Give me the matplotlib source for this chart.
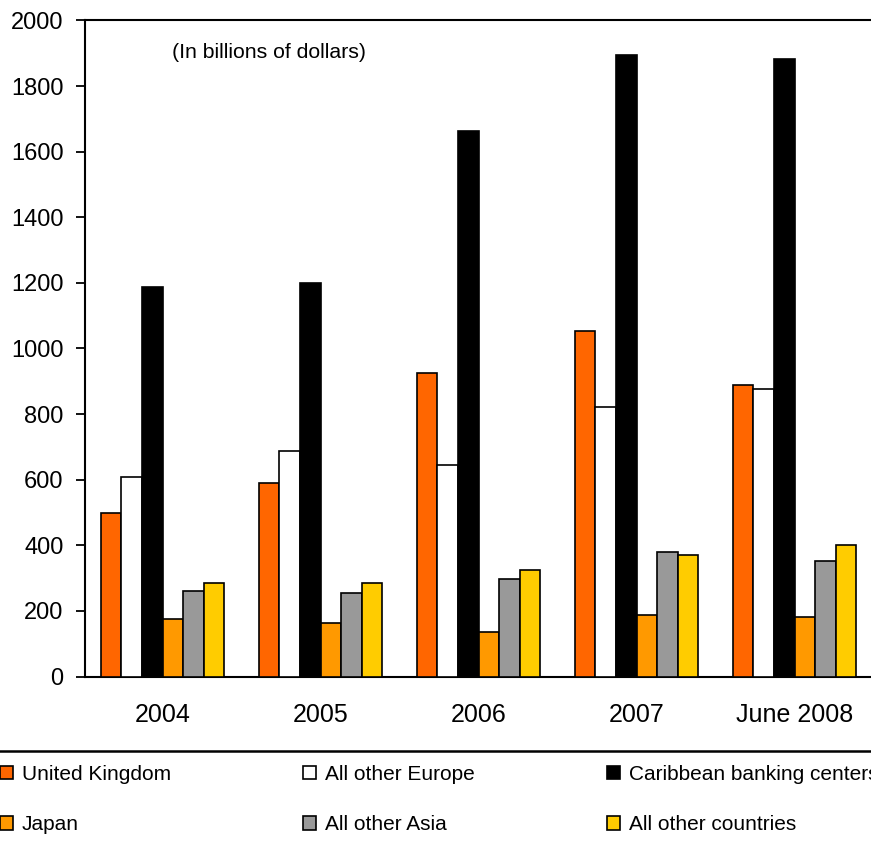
import numpy as np
import matplotlib
matplotlib.use("Agg")
import matplotlib.pyplot as plt
from matplotlib.lines import Line2D

plt.rcParams['font.family'] = ['Liberation Sans', 'DejaVu Sans']

# data (billions of dollars)
periods = ["2004", "2005", "2006", "2007", "June 2008"]
series = ["United Kingdom", "All other Europe", "Caribbean banking centers",
          "Japan", "All other Asia", "All other countries"]
uk = [500, 590, 925, 1052, 888]
europe = [608, 688, 645, 822, 876]
caribbean = [1187, 1200, 1662, 1896, 1883]
japan = [174, 162, 137, 187, 180]
asia = [260, 255, 296, 381, 352]
other = [284, 284, 326, 370, 400]
yticks = [0, 200, 400, 600, 800, 1000, 1200, 1400, 1600, 1800, 2000]

colors = ["#FF6600", "#FFFFFF", "#000000", "#FF9900", "#999999", "#FFCC00"]
values = [uk, europe, caribbean, japan, asia, other]

fig = plt.figure(figsize=(8.71, 8.47), dpi=100)
ax = fig.add_axes([85/871, 1 - 676.5/847, 1 - 85/871, (676.5 - 20.5)/847])

x = np.arange(len(periods))
w = 0.13
bars = []
for k, (vals, col) in enumerate(zip(values, colors)):
    b = ax.bar(x + (k - 2.5) * w, vals, w, color=col, edgecolor="black",
               linewidth=1.2, label=series[k], zorder=3)
    bars.append(b)

ax.set_xlim(-0.4905, 4.484)
ax.set_ylim(0, 2000)
ax.set_yticks(yticks)
ax.set_xticks(x)
ax.set_xticklabels(periods)
ax.tick_params(axis="y", direction="out", length=6.5, width=1.3, pad=9, labelsize=17)
ax.tick_params(axis="x", length=0, pad=19, labelsize=18)
for s in ["left", "top", "bottom"]:
    ax.spines[s].set_linewidth(1.5)
ax.spines["right"].set_visible(False)

ax.text(0.2335, 0.9505, "(In billions of dollars)", transform=ax.transAxes,
        ha="center", va="center", fontsize=15.3)

# separator above legend
fig.add_artist(Line2D([0, 1], [1 - 751/847, 1 - 751/847], color="black", linewidth=1.8))

order = [0, 3, 1, 4, 2, 5]
fig.legend([bars[i] for i in order], [series[i] for i in order],
           loc="upper left", bbox_to_anchor=(0.0, 1 - 765/847), ncol=3,
           frameon=False, fontsize=15, handlelength=0.62, handleheight=0.62,
           handletextpad=0.43, columnspacing=6.35, labelspacing=1.5,
           borderpad=0, borderaxespad=0)

fig.savefig("out.png", dpi=100)
